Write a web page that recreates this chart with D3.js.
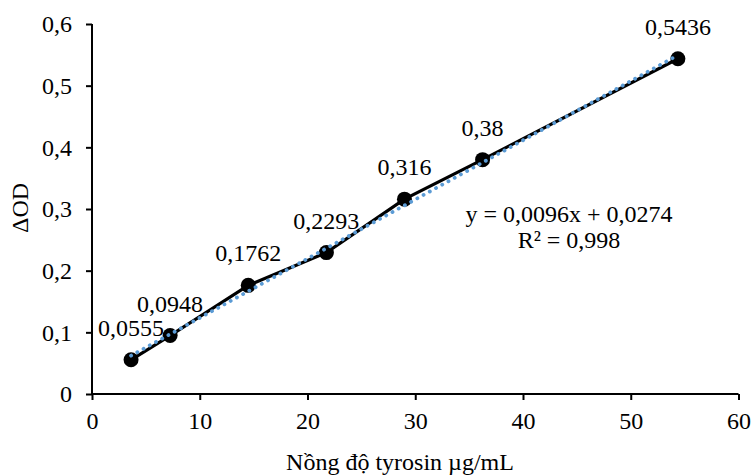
<!DOCTYPE html>
<html>
<head>
<meta charset="utf-8">
<script src="https://cdn.jsdelivr.net/npm/d3@7"></script>
<style>
  body { margin: 0; background: #fff; }
  text { font-family: "Liberation Serif", "Times New Roman", serif; fill: #000; }
</style>
</head>
<body>
<svg id="chart" width="753" height="476"></svg>
<script>
// data
const conc = [3.625, 7.25, 14.5, 21.75, 29, 36.25, 54.375];
const od = [0.0555, 0.0948, 0.1762, 0.2293, 0.316, 0.38, 0.5436];
const odLabels = ["0,0555", "0,0948", "0,1762", "0,2293", "0,316", "0,38", "0,5436"];
const xTicks = [0, 10, 20, 30, 40, 50, 60];
const yTicks = [0, 0.1, 0.2, 0.3, 0.4, 0.5, 0.6];
const trend = { slope: 0.0096, intercept: 0.0274 };
const eqLines = ["y = 0,0096x + 0,0274", "R² = 0,998"];

const svg = d3.select("#chart");
const fmt = v => String(v).replace(".", ",");
const fs = "24px";

let x = d3.scaleLinear().domain([0, 60]).range([92, 738.5]);
let y = d3.scaleLinear().domain([0, 0.6]).range([394, 24]);

// axes
let xAxis = svg.append("g")
  .attr("transform", `translate(0,${y(0)})`)
  .call(d3.axisBottom(x).tickValues(xTicks).tickSize(6).tickPadding(12).tickFormat(d => d));
let yAxis = svg.append("g")
  .attr("transform", `translate(${x(0)},0)`)
  .call(d3.axisLeft(y).tickValues(yTicks).tickSize(6).tickPadding(14).tickFormat(fmt));

svg.selectAll(".domain").attr("stroke", "#000").attr("stroke-width", 2);
svg.selectAll(".tick line").attr("stroke", "#000").attr("stroke-width", 2);
svg.selectAll(".tick text")
  .style("font-family", "Liberation Serif")
  .style("font-size", fs)
  .attr("fill", "#000");
// no outer tick ends on the domain lines
xAxis.select(".domain").attr("d", `M${x(0)},0H${x(60)}`);
yAxis.select(".domain").attr("d", `M0,${y(0)}V${y(0.6)}`);

let pts = conc.map((c, i) => [c, od[i]]);

// data line
svg.append("path")
  .datum(pts)
  .attr("fill", "none")
  .attr("stroke", "#000")
  .attr("stroke-width", 3.2)
  .attr("d", d3.line().x(d => x(d[0])).y(d => y(d[1])));

// markers
svg.selectAll("circle.pt")
  .data(pts)
  .enter().append("circle")
  .attr("class", "pt")
  .attr("cx", d => x(d[0]))
  .attr("cy", d => y(d[1]))
  .attr("r", 7.5)
  .attr("fill", "#000");

// linear trendline (dotted)
let xs = d3.extent(conc);
svg.append("path")
  .datum(xs.map(v => [v, trend.intercept + trend.slope * v]))
  .attr("fill", "none")
  .attr("stroke", "#5B9BD5")
  .attr("stroke-width", 3.8)
  .attr("stroke-linecap", "round")
  .attr("stroke-dasharray", "0.1 7")
  .attr("d", d3.line().x(d => x(d[0])).y(d => y(d[1])));

// data labels
svg.selectAll("text.lbl")
  .data(pts)
  .enter().append("text")
  .attr("class", "lbl")
  .attr("x", d => x(d[0]))
  .attr("y", d => y(d[1]) - 24)
  .attr("text-anchor", "middle")
  .style("font-size", fs)
  .text((d, i) => odLabels[i]);

// equation
svg.selectAll("text.eq")
  .data(eqLines)
  .enter().append("text")
  .attr("class", "eq")
  .attr("x", 569)
  .attr("y", (d, i) => 222 + i * 26)
  .attr("text-anchor", "middle")
  .style("font-size", fs)
  .text(d => d);

// axis titles
svg.append("text")
  .attr("x", 400)
  .attr("y", 470)
  .attr("text-anchor", "middle")
  .style("font-size", fs)
  .text("Nồng độ tyrosin µg/mL");

svg.append("text")
  .attr("transform", "translate(28,208) rotate(-90)")
  .attr("text-anchor", "middle")
  .style("font-size", fs)
  .text("ΔOD");
</script>
</body>
</html>
